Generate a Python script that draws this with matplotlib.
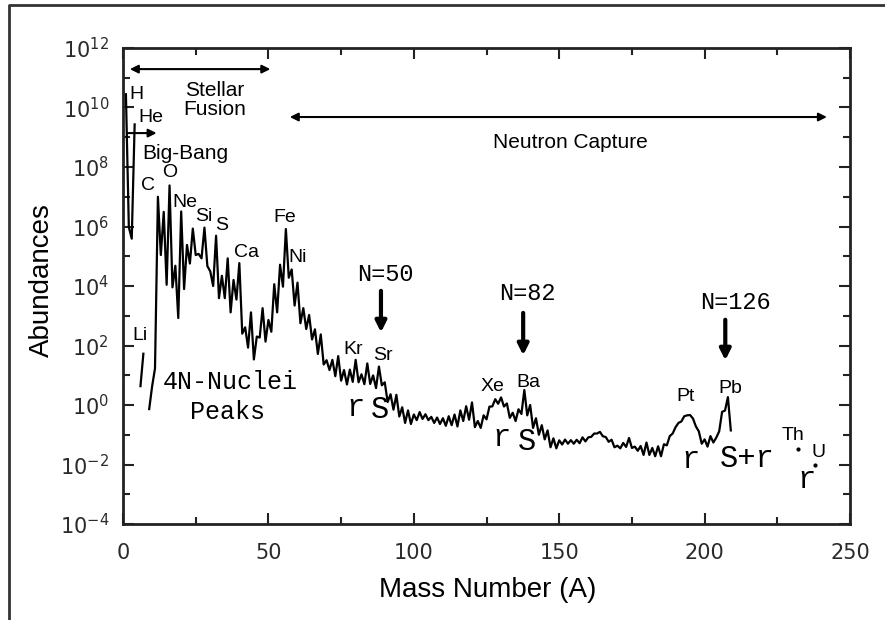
import numpy as np
import matplotlib.pyplot as plt
from matplotlib.lines import Line2D
from matplotlib.ticker import FixedLocator, NullFormatter

# solar system abundances per mass number (Si = 1e6)
mass_number = np.arange(1, 210)
abundance = [
    2.79e10, 9.5e5, 3.9e5, 2.7e9, np.nan, 4.3, 53, np.nan, 0.73, 4.2,        # 1-10
    17, 1.0e7, 1.1e5, 3.1e6, 1.1e4, 2.4e7, 9.0e3, 4.8e4, 840, 3.2e6,         # 11-20
    7.9e3, 2.4e5, 5.7e4, 8.5e5, 1.1e5, 1.2e5, 8.5e4, 9.2e5, 4.7e4, 3.1e4,    # 21-30
    1.0e4, 4.9e5, 3.9e3, 2.2e4, 3.9e3, 8.5e4, 1.3e3, 1.6e4, 3.5e3, 5.9e4,    # 31-40
    250, 410, 85, 1.3e3, 34, 200, 185, 1.8e3, 135, 720,                      # 41-50
    290, 1.15e4, 1.3e3, 5.2e4, 9.5e3, 8.2e5, 1.9e4, 3.6e4, 2.2e3, 1.3e4,     # 51-60
    560, 1.8e3, 360, 1.06e3, 160, 350, 52, 236, 23, 32,                      # 61-70
    15, 33, 9.3, 44, 6.6, 15, 4.9, 15.5, 6.0, 33,                            # 71-80
    5.8, 10.8, 5.0, 25, 5.1, 9.9, 3.7, 19.6, 4.6, 5.8,                       # 81-90
    1.26, 2.3, 0.70, 2.2, 0.41, 0.84, 0.25, 0.66, 0.23, 0.48,                # 91-100
    0.31, 0.58, 0.34, 0.49, 0.31, 0.40, 0.25, 0.38, 0.23, 0.36,              # 101-110
    0.20, 0.42, 0.21, 0.48, 0.19, 0.66, 0.29, 0.91, 0.32, 1.22,              # 111-120
    0.18, 0.29, 0.17, 0.45, 0.33, 0.88, 0.90, 1.57, 1.1, 1.8,                # 121-130
    0.89, 1.13, 0.37, 0.55, 0.29, 0.72, 0.50, 3.2, 0.45, 1.0,                # 131-140
    0.17, 0.36, 0.10, 0.21, 0.07, 0.14, 0.038, 0.076, 0.035, 0.065,          # 141-150
    0.047, 0.069, 0.050, 0.066, 0.050, 0.068, 0.052, 0.082, 0.060, 0.082,    # 151-160
    0.085, 0.11, 0.11, 0.125, 0.089, 0.084, 0.058, 0.068, 0.038, 0.043,      # 161-170
    0.035, 0.053, 0.039, 0.078, 0.036, 0.040, 0.029, 0.042, 0.021, 0.055,    # 171-180
    0.021, 0.036, 0.019, 0.041, 0.019, 0.048, 0.044, 0.09, 0.11, 0.18,       # 181-190
    0.25, 0.28, 0.42, 0.45, 0.46, 0.35, 0.19, 0.13, 0.05, 0.07,              # 191-200
    0.04, 0.09, 0.055, 0.08, 0.13, 0.59, 0.65, 1.84, 0.14,                   # 201-209
]
actinide_mass = [232, 238]
actinide_abundance = [0.034, 0.0094]

elements = ["H", "He", "Li", "C", "O", "Ne", "Si", "S", "Ca", "Fe", "Ni",
            "Kr", "Sr", "Xe", "Ba", "Pt", "Pb", "Th", "U"]
shell_closures = ["N=50", "N=82", "N=126"]

sans = "Liberation Sans"
mono = "Liberation Mono"
ink = "#222222"

fig = plt.figure(figsize=(8.85, 6.2), dpi=100)
ax = fig.add_axes([0.139, 0.1548, 0.8215, 0.7678])

ax.plot(mass_number, abundance, color="black", lw=1.6)
ax.plot(actinide_mass, actinide_abundance, "k.", ms=4)

ax.set_yscale("log")
ax.set_xlim(0, 250)
ax.set_ylim(1e-4, 1e12)

ax.xaxis.set_major_locator(FixedLocator([0, 50, 100, 150, 200, 250]))
ax.xaxis.set_minor_locator(FixedLocator([25, 75, 125, 175, 225]))
ax.yaxis.set_major_locator(FixedLocator([10.0 ** k for k in range(-4, 13, 2)]))
ax.yaxis.set_minor_locator(FixedLocator([10.0 ** k for k in range(-3, 12, 2)]))
ax.yaxis.set_minor_formatter(NullFormatter())
ax.set_yticklabels([r"$\mathregular{10^{%d}}$" % k for k in range(-4, 13, 2)])

ax.tick_params(which="both", direction="in", top=True, right=True,
               color=ink, width=1.5, labelsize=15, labelcolor="#2a2a2a")
ax.tick_params(which="major", length=8)
ax.tick_params(which="minor", length=5)
ax.tick_params(axis="x", pad=14)
ax.tick_params(axis="y", pad=10)
for sp in ax.spines.values():
    sp.set_linewidth(2)
    sp.set_color(ink)

fig.text(0.047, 0.548, "Abundances", rotation=90, ha="center", va="center",
         fontsize=20, family=sans)
fig.text(0.551, 0.048, "Mass Number (A)", ha="center", va="center",
         fontsize=20, family=sans)

# outer frame (top and left edges only)
fig.add_artist(Line2D([0.0102, 0.0102, 1.0], [0.0, 0.992, 0.992],
                      transform=fig.transFigure, color="#333333", lw=2))

# range arrows
arrow = dict(arrowstyle="<|-|>", color="black", lw=1.5, mutation_scale=12)
ax.annotate("", xy=(51.6, 10 ** 11.29), xytext=(1.4, 10 ** 11.29), arrowprops=arrow)
ax.annotate("", xy=(243, 10 ** 9.68), xytext=(56.4, 10 ** 9.68), arrowprops=arrow)
ax.annotate("", xy=(12.5, 10 ** 9.14), xytext=(0.5, 10 ** 9.14),
            arrowprops=dict(arrowstyle="-|>", color="black", lw=1.5, mutation_scale=12))

ax.text(31.6, 10 ** 10.25, "Stellar\nFusion", ha="center", va="center",
        fontsize=15, family=sans, linespacing=0.95)
ax.text(153.7, 10 ** 8.84, "Neutron Capture", ha="center", va="center",
        fontsize=15, family=sans)
ax.text(6.5, 10 ** 8.47, "Big-Bang", ha="left", va="center", fontsize=15, family=sans)

# element labels
label_pos = [(4.6, 10.42), (9.5, 9.68), (6.0, 2.35), (8.6, 7.39), (16.2, 7.80),
             (21.3, 6.82), (27.9, 6.32), (34.0, 6.05), (42.6, 5.14), (55.7, 6.29),
             (60.2, 4.97), (79.1, 1.85), (89.4, 1.65), (127.2, 0.61), (139.3, 0.77),
             (193.3, 0.27), (208.7, 0.57), (230.4, -1.01), (239.0, -1.58)]
for name, (x, v) in zip(elements, label_pos):
    ax.text(x, 10 ** v, name, ha="center", va="center", fontsize=14, family=sans)

# shell closure arrows
closure_x = [88.7, 137.6, 207.1]
closure_text = [(90.1, 4.37), (138.9, 3.76), (210.5, 3.43)]
closure_arrow = [(3.93, 2.35), (3.19, 1.58), (2.96, 1.41)]
for lab, x, (tx, tv), (v0, v1) in zip(shell_closures, closure_x, closure_text, closure_arrow):
    ax.text(tx, 10 ** tv, lab, ha="center", va="center", fontsize=17, family=mono)
    ax.annotate("", xy=(x, 10 ** v1), xytext=(x, 10 ** v0),
                arrowprops=dict(arrowstyle="-|>", color="black", lw=3, mutation_scale=16))

ax.text(37.0, 10 ** 0.77, "4N-Nuclei", ha="center", va="center", fontsize=18, family=mono)
ax.text(36.1, 10 ** -0.24, "Peaks", ha="center", va="center", fontsize=18, family=mono)

# process labels
process = [("r", 80.1, -0.10), ("S", 88.4, -0.17), ("r", 130.3, -1.11), ("S", 138.9, -1.24),
           ("r", 195.0, -1.85), ("S+r", 214.6, -1.82), ("r", 235.2, -2.52)]
for lab, x, v in process:
    ax.text(x, 10 ** v, lab, ha="center", va="center", fontsize=22, family=mono)

fig.savefig("out.png", dpi=100)
